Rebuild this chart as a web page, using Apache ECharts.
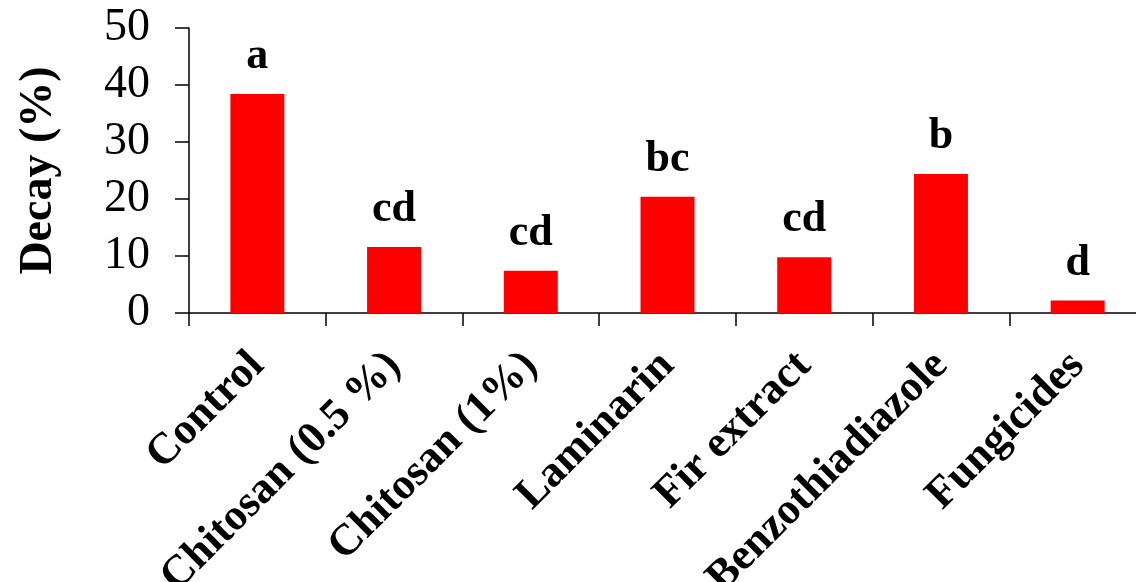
<!DOCTYPE html>
<html>
<head>
<meta charset="utf-8">
<script src="https://cdn.jsdelivr.net/npm/echarts@6/dist/echarts.min.js"></script>
<style>
  html, body { margin: 0; padding: 0; background: #fff; }
  #chart { width: 1136px; height: 582px; }
</style>
</head>
<body>
<div id="chart"></div>
<script>
// Treatments and mean decay (%) with significance letters
const categories = ['Control', 'Chitosan (0.5 %)', 'Chitosan (1%)', 'Laminarin', 'Fir extract', 'Benzothiadiazole', 'Fungicides'];
const decay = [38.4, 11.6, 7.4, 20.4, 9.8, 24.4, 2.2];
const letters = ['a', 'cd', 'cd', 'bc', 'cd', 'b', 'd'];
const yTicks = [0, 10, 20, 30, 40, 50];

const serif = '"Liberation Serif", "Times New Roman", serif';

const chart = echarts.init(document.getElementById('chart'));
chart.setOption({
  animation: false,
  backgroundColor: '#fff',
  // plot runs a little past the right edge of the canvas
  grid: { left: 189, right: -10, top: 28, bottom: 269, containLabel: false, outerBoundsMode: 'none' },
  xAxis: {
    type: 'category',
    data: categories,
    axisLine: { lineStyle: { color: '#000', width: 1.5 } },
    axisTick: { show: true, length: 13, lineStyle: { color: '#000', width: 1.5 } },
    axisLabel: {
      rotate: 45,
      interval: 0,
      margin: 46,
      color: '#000',
      fontFamily: serif,
      fontWeight: 'bold',
      fontSize: 44
    }
  },
  yAxis: {
    type: 'value',
    min: yTicks[0],
    max: yTicks[yTicks.length - 1],
    interval: 10,
    name: 'Decay (%)',
    nameLocation: 'middle',
    nameRotate: 90,
    nameGap: 127,
    nameTextStyle: { color: '#000', fontFamily: serif, fontWeight: 'bold', fontSize: 46 },
    axisLine: { show: true, lineStyle: { color: '#000', width: 1.5 } },
    axisTick: { show: true, length: 14, lineStyle: { color: '#000', width: 1.5 } },
    axisLabel: { margin: 39, color: '#000', fontFamily: serif, fontSize: 46 },
    splitLine: { show: false }
  },
  series: [{
    type: 'bar',
    data: decay,
    barWidth: 54,
    itemStyle: { color: '#ff0000' },
    label: {
      show: true,
      position: 'top',
      distance: 15,
      formatter: p => letters[p.dataIndex],
      color: '#000',
      fontFamily: serif,
      fontWeight: 'bold',
      fontSize: 44
    }
  }]
});
</script>
</body>
</html>
